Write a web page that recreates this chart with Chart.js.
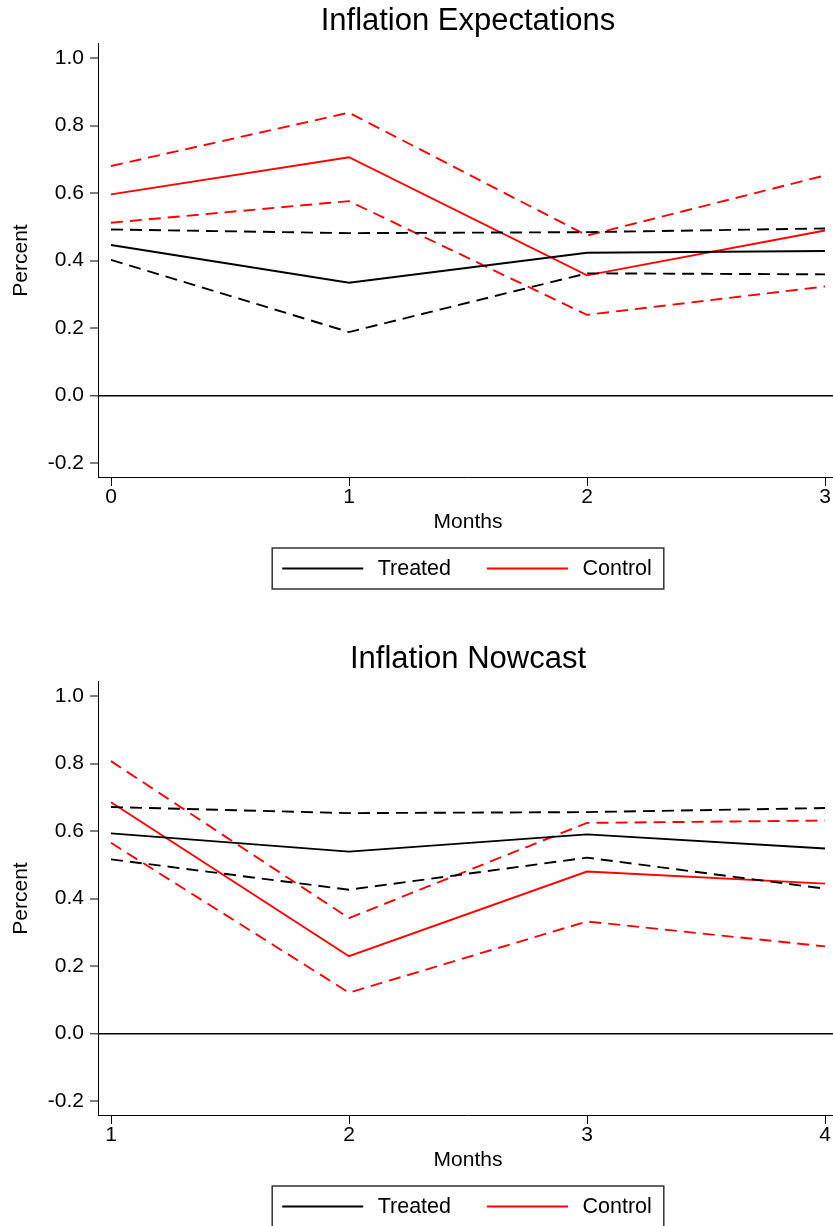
<!DOCTYPE html>
<html>
<head>
<meta charset="utf-8">
<script src="https://cdn.jsdelivr.net/npm/chart.js@4/dist/chart.umd.min.js"></script>
<style>
    html, body { margin: 0; padding: 0; background: #fff; overflow: hidden; }
    .panel { width: 833px; height: 638px; overflow: hidden; position: relative; }
    .panel canvas { position: absolute; left: 0; top: 0; }
</style>
</head>
<body>
<div class="panel"><canvas id="expectations" width="838" height="638"></canvas></div>
<div class="panel"><canvas id="nowcast" width="838" height="638"></canvas></div>
<script>
// values
const groups = ['Treated', 'Control']
const yTicks = [-0.2, 0, 0.2, 0.4, 0.6, 0.8, 1.0]

const monthsExp = [0, 1, 2, 3]
const expTreated = [0.446, 0.334, 0.423, 0.428]
const expTreatedHi = [0.492, 0.481, 0.484, 0.495]
const expTreatedLo = [0.402, 0.188, 0.362, 0.359]
const expControl = [0.596, 0.706, 0.356, 0.489]
const expControlHi = [0.680, 0.838, 0.474, 0.652]
const expControlLo = [0.512, 0.576, 0.239, 0.323]

const monthsNow = [1, 2, 3, 4]
const nowTreated = [0.593, 0.539, 0.590, 0.548]
const nowTreatedHi = [0.671, 0.653, 0.656, 0.668]
const nowTreatedLo = [0.516, 0.426, 0.521, 0.429]
const nowControl = [0.685, 0.229, 0.480, 0.444]
const nowControlHi = [0.807, 0.342, 0.624, 0.631]
const nowControlLo = [0.565, 0.121, 0.332, 0.258]

const FONT = '"Liberation Sans", Arial, Helvetica, sans-serif'
const colors = { Treated: '#000000', Control: '#ff0000' }

Chart.defaults.font.family = FONT
Chart.defaults.color = '#000'

// stata style legend: boxed, only the point estimates
const boxLegend = {
    id: 'boxLegend',
    afterDraw(chart) {
        const ctx = chart.ctx
        const area = chart.chartArea
        const items = chart.data.datasets.filter(d => !d.band)
        ctx.save()
        ctx.font = '21.5px ' + FONT
        const widths = items.map(d => ctx.measureText(d.label).width)
        const lineLen = 81, gapText = 14.5, gapItem = 36, padL = 10, padR = 12
        let total = padL + padR + gapItem * (items.length - 1)
        widths.forEach(w => total += lineLen + gapText + w)
        const left = (area.left + area.right) / 2 - total / 2
        const top = area.bottom + 71
        const h = 41
        const cy = top + h / 2
        ctx.strokeStyle = '#333'
        ctx.lineWidth = 1.5
        ctx.strokeRect(left, top, total, h)
        let x = left + padL
        items.forEach((d, i) => {
            ctx.beginPath()
            ctx.strokeStyle = d.borderColor
            ctx.lineWidth = 2
            ctx.moveTo(x, cy)
            ctx.lineTo(x + lineLen, cy)
            ctx.stroke()
            x += lineLen + gapText
            ctx.fillStyle = '#000'
            ctx.textBaseline = 'middle'
            ctx.textAlign = 'left'
            ctx.fillText(d.label, x, cy + 0.5)
            x += widths[i] + gapItem
        })
        ctx.restore()
    }
}

class BandChart {
    constructor({ canvas, title, months, series }) {
        this.canvas = canvas
        this.title = title
        this.months = months
        this.series = series
    }
    toPoints(values) {
        return values.map((v, i) => ({ x: this.months[i], y: v }))
    }
    datasets() {
        const out = []
        groups.forEach(g => {
            const s = this.series[g]
            out.push({ label: g, data: this.toPoints(s.mid), borderColor: colors[g], borderWidth: 1.9 })
            out.push({ label: g + ' upper', band: true, data: this.toPoints(s.hi), borderColor: colors[g], borderWidth: 1.9, borderDash: [12, 7] })
            out.push({ label: g + ' lower', band: true, data: this.toPoints(s.lo), borderColor: colors[g], borderWidth: 1.9, borderDash: [12, 7] })
        })
        return out
    }
    render() {
        const months = this.months
        const step = months[1] - months[0]
        const xPad = step * 13 / 238
        const tickFont = { size: 21, family: FONT, lineHeight: 1 }
        const titleFont = { size: 21, family: FONT }
        return new Chart(this.canvas, {
            type: 'line',
            data: { datasets: this.datasets() },
            options: {
                responsive: false,
                animation: false,
                devicePixelRatio: 1,
                layout: { padding: { top: 0, left: 0, right: 0, bottom: 100 } },
                elements: { point: { radius: 0 }, line: { tension: 0 } },
                plugins: {
                    legend: { display: false },
                    tooltip: { enabled: false },
                    title: {
                        display: true,
                        text: this.title,
                        fullSize: false,
                        color: '#000',
                        font: { size: 31, family: FONT, weight: 'normal', lineHeight: 1.2 },
                        padding: { top: 3, bottom: 3.8 }
                    }
                },
                scales: {
                    x: {
                        type: 'linear',
                        min: months[0] - xPad,
                        max: months[months.length - 1] + xPad,
                        afterBuildTicks: s => { s.ticks = months.map(v => ({ value: v })) },
                        afterFit: s => { s.height = 61; s.paddingLeft = 0; s.paddingRight = 0 },
                        border: { display: true, color: '#000', width: 1 },
                        grid: { drawOnChartArea: false, drawTicks: true, tickLength: 9, tickColor: '#000', tickWidth: 1 },
                        ticks: { color: '#000', font: tickFont, padding: 1, maxRotation: 0, autoSkip: false, callback: v => String(v) },
                        title: { display: true, text: 'Months', color: '#000', font: titleFont, padding: { top: 0, bottom: 3 } }
                    },
                    y: {
                        min: -0.2415,
                        max: 1.0415,
                        afterBuildTicks: s => { s.ticks = yTicks.map(v => ({ value: v })) },
                        afterFit: s => { s.width = 98; s.paddingTop = 0; s.paddingBottom = 0 },
                        border: { display: true, color: '#000', width: 1 },
                        grid: {
                            color: c => (c.tick && c.tick.value === 0) ? '#000' : 'rgba(0,0,0,0)',
                            lineWidth: c => (c.tick && c.tick.value === 0) ? 1.6 : 0,
                            drawTicks: true,
                            tickLength: 8,
                            tickColor: '#000',
                            tickWidth: 1
                        },
                        ticks: { color: '#000', font: tickFont, padding: 6, callback: v => v.toFixed(1) },
                        title: { display: true, text: 'Percent', color: '#000', font: titleFont, padding: { top: 9, bottom: 0 } }
                    }
                }
            },
            plugins: [boxLegend]
        })
    }
}

new BandChart({
    canvas: document.getElementById('expectations'),
    title: 'Inflation Expectations',
    months: monthsExp,
    series: {
        Treated: { mid: expTreated, hi: expTreatedHi, lo: expTreatedLo },
        Control: { mid: expControl, hi: expControlHi, lo: expControlLo }
    }
}).render()

new BandChart({
    canvas: document.getElementById('nowcast'),
    title: 'Inflation Nowcast',
    months: monthsNow,
    series: {
        Treated: { mid: nowTreated, hi: nowTreatedHi, lo: nowTreatedLo },
        Control: { mid: nowControl, hi: nowControlHi, lo: nowControlLo }
    }
}).render()
</script>
</body>
</html>
